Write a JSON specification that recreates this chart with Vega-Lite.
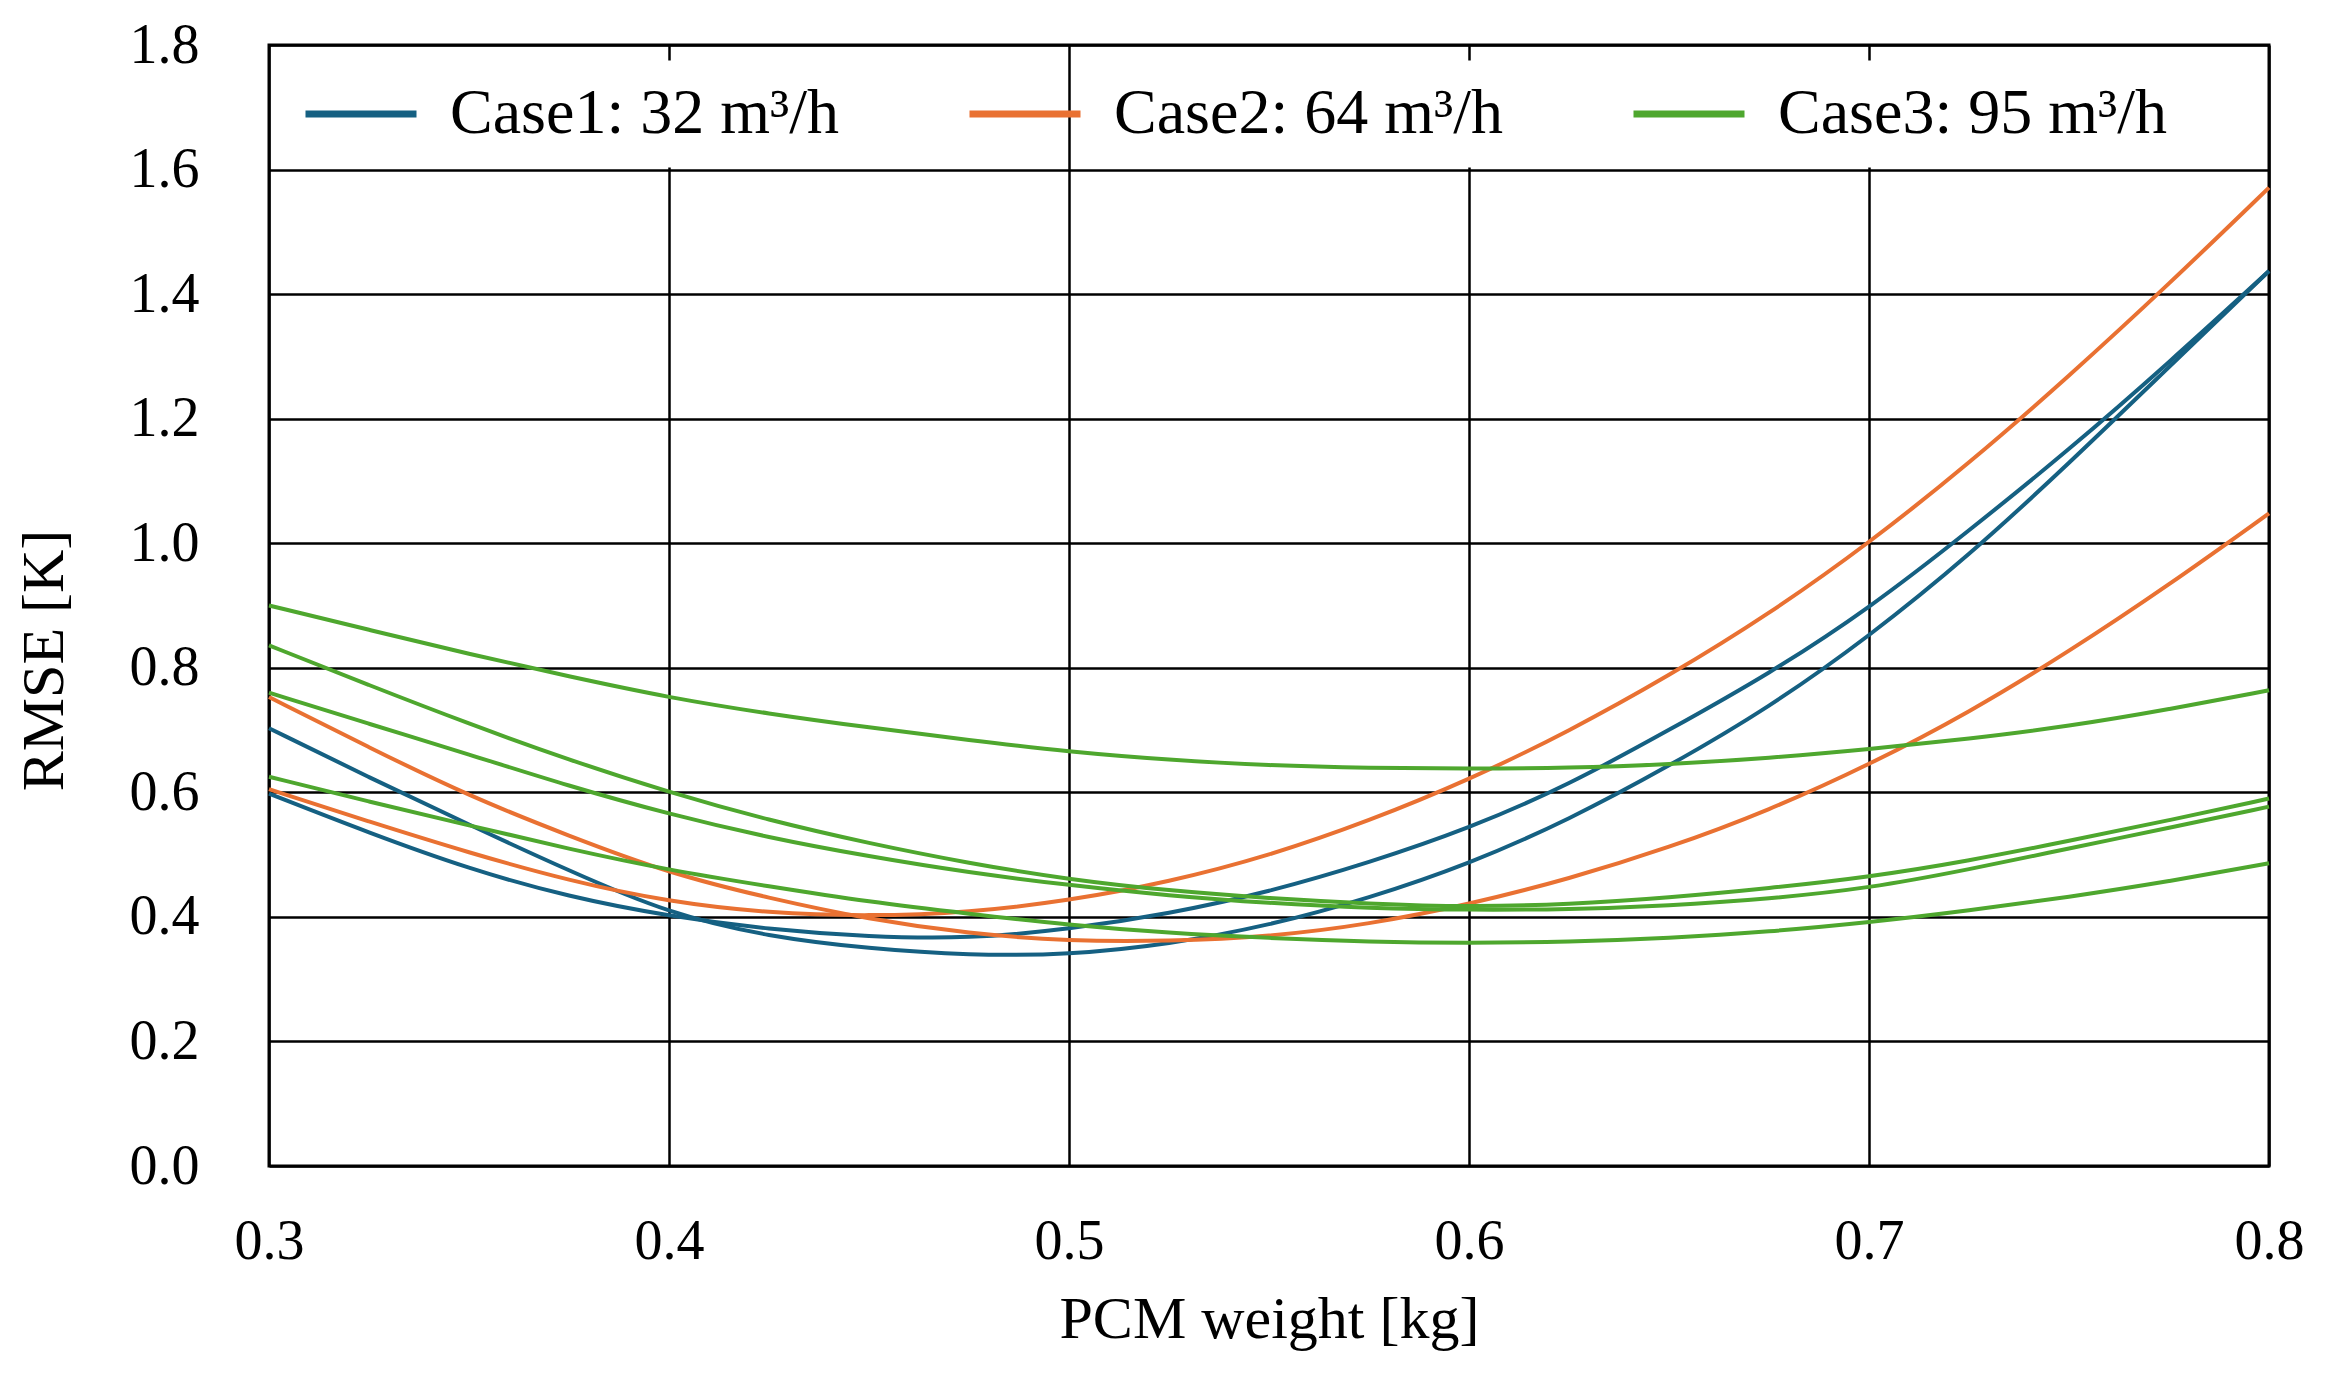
{
  "$schema": "https://vega.github.io/schema/vega-lite/v6.json",
  "width": 2000,
  "height": 1121,
  "autosize": "none",
  "padding": {"left": 269, "top": 45, "right": 59, "bottom": 213},
  "background": "white",
  "config": {
    "view": {"stroke": "black", "strokeWidth": 3},
    "font": "Liberation Serif",
    "axis": {
      "domain": false,
      "ticks": false,
      "tickSize": 0,
      "grid": true,
      "gridColor": "black",
      "gridWidth": 2.5,
      "gridOpacity": 1,
      "labelFont": "Liberation Serif",
      "labelColor": "black",
      "labelFontSize": 56,
      "titleFont": "Liberation Serif",
      "titleColor": "black",
      "titleFontSize": 60,
      "titleFontWeight": "normal"
    },
    "legend": {
      "labelFont": "Liberation Serif",
      "labelColor": "black",
      "labelFontSize": 64,
      "labelLimit": 1000
    }
  },
  "datasets": {
    "curves": [
      {"case": "Case1: 32 m³/h", "curve": "B1", "w": 0.300, "rmse": 0.703},
      {"case": "Case1: 32 m³/h", "curve": "B1", "w": 0.325, "rmse": 0.624},
      {"case": "Case1: 32 m³/h", "curve": "B1", "w": 0.350, "rmse": 0.548},
      {"case": "Case1: 32 m³/h", "curve": "B1", "w": 0.375, "rmse": 0.474},
      {"case": "Case1: 32 m³/h", "curve": "B1", "w": 0.400, "rmse": 0.405},
      {"case": "Case1: 32 m³/h", "curve": "B1", "w": 0.425, "rmse": 0.368},
      {"case": "Case1: 32 m³/h", "curve": "B1", "w": 0.450, "rmse": 0.349},
      {"case": "Case1: 32 m³/h", "curve": "B1", "w": 0.475, "rmse": 0.338},
      {"case": "Case1: 32 m³/h", "curve": "B1", "w": 0.500, "rmse": 0.339},
      {"case": "Case1: 32 m³/h", "curve": "B1", "w": 0.525, "rmse": 0.356},
      {"case": "Case1: 32 m³/h", "curve": "B1", "w": 0.550, "rmse": 0.386},
      {"case": "Case1: 32 m³/h", "curve": "B1", "w": 0.575, "rmse": 0.430},
      {"case": "Case1: 32 m³/h", "curve": "B1", "w": 0.600, "rmse": 0.485},
      {"case": "Case1: 32 m³/h", "curve": "B1", "w": 0.625, "rmse": 0.556},
      {"case": "Case1: 32 m³/h", "curve": "B1", "w": 0.650, "rmse": 0.642},
      {"case": "Case1: 32 m³/h", "curve": "B1", "w": 0.675, "rmse": 0.736},
      {"case": "Case1: 32 m³/h", "curve": "B1", "w": 0.700, "rmse": 0.850},
      {"case": "Case1: 32 m³/h", "curve": "B1", "w": 0.725, "rmse": 0.980},
      {"case": "Case1: 32 m³/h", "curve": "B1", "w": 0.750, "rmse": 1.128},
      {"case": "Case1: 32 m³/h", "curve": "B1", "w": 0.775, "rmse": 1.283},
      {"case": "Case1: 32 m³/h", "curve": "B1", "w": 0.800, "rmse": 1.437},
      {"case": "Case1: 32 m³/h", "curve": "B2", "w": 0.300, "rmse": 0.598},
      {"case": "Case1: 32 m³/h", "curve": "B2", "w": 0.325, "rmse": 0.535},
      {"case": "Case1: 32 m³/h", "curve": "B2", "w": 0.350, "rmse": 0.477},
      {"case": "Case1: 32 m³/h", "curve": "B2", "w": 0.375, "rmse": 0.432},
      {"case": "Case1: 32 m³/h", "curve": "B2", "w": 0.400, "rmse": 0.401},
      {"case": "Case1: 32 m³/h", "curve": "B2", "w": 0.425, "rmse": 0.380},
      {"case": "Case1: 32 m³/h", "curve": "B2", "w": 0.450, "rmse": 0.368},
      {"case": "Case1: 32 m³/h", "curve": "B2", "w": 0.475, "rmse": 0.365},
      {"case": "Case1: 32 m³/h", "curve": "B2", "w": 0.500, "rmse": 0.380},
      {"case": "Case1: 32 m³/h", "curve": "B2", "w": 0.525, "rmse": 0.405},
      {"case": "Case1: 32 m³/h", "curve": "B2", "w": 0.550, "rmse": 0.440},
      {"case": "Case1: 32 m³/h", "curve": "B2", "w": 0.575, "rmse": 0.487},
      {"case": "Case1: 32 m³/h", "curve": "B2", "w": 0.600, "rmse": 0.542},
      {"case": "Case1: 32 m³/h", "curve": "B2", "w": 0.625, "rmse": 0.612},
      {"case": "Case1: 32 m³/h", "curve": "B2", "w": 0.650, "rmse": 0.700},
      {"case": "Case1: 32 m³/h", "curve": "B2", "w": 0.675, "rmse": 0.790},
      {"case": "Case1: 32 m³/h", "curve": "B2", "w": 0.700, "rmse": 0.895},
      {"case": "Case1: 32 m³/h", "curve": "B2", "w": 0.725, "rmse": 1.020},
      {"case": "Case1: 32 m³/h", "curve": "B2", "w": 0.750, "rmse": 1.150},
      {"case": "Case1: 32 m³/h", "curve": "B2", "w": 0.775, "rmse": 1.290},
      {"case": "Case1: 32 m³/h", "curve": "B2", "w": 0.800, "rmse": 1.437},
      {"case": "Case2: 64 m³/h", "curve": "O1", "w": 0.300, "rmse": 0.753},
      {"case": "Case2: 64 m³/h", "curve": "O1", "w": 0.325, "rmse": 0.672},
      {"case": "Case2: 64 m³/h", "curve": "O1", "w": 0.350, "rmse": 0.594},
      {"case": "Case2: 64 m³/h", "curve": "O1", "w": 0.375, "rmse": 0.530},
      {"case": "Case2: 64 m³/h", "curve": "O1", "w": 0.400, "rmse": 0.470},
      {"case": "Case2: 64 m³/h", "curve": "O1", "w": 0.425, "rmse": 0.430},
      {"case": "Case2: 64 m³/h", "curve": "O1", "w": 0.450, "rmse": 0.396},
      {"case": "Case2: 64 m³/h", "curve": "O1", "w": 0.475, "rmse": 0.373},
      {"case": "Case2: 64 m³/h", "curve": "O1", "w": 0.500, "rmse": 0.361},
      {"case": "Case2: 64 m³/h", "curve": "O1", "w": 0.525, "rmse": 0.361},
      {"case": "Case2: 64 m³/h", "curve": "O1", "w": 0.550, "rmse": 0.368},
      {"case": "Case2: 64 m³/h", "curve": "O1", "w": 0.575, "rmse": 0.388},
      {"case": "Case2: 64 m³/h", "curve": "O1", "w": 0.600, "rmse": 0.420},
      {"case": "Case2: 64 m³/h", "curve": "O1", "w": 0.625, "rmse": 0.461},
      {"case": "Case2: 64 m³/h", "curve": "O1", "w": 0.650, "rmse": 0.511},
      {"case": "Case2: 64 m³/h", "curve": "O1", "w": 0.675, "rmse": 0.571},
      {"case": "Case2: 64 m³/h", "curve": "O1", "w": 0.700, "rmse": 0.644},
      {"case": "Case2: 64 m³/h", "curve": "O1", "w": 0.725, "rmse": 0.728},
      {"case": "Case2: 64 m³/h", "curve": "O1", "w": 0.750, "rmse": 0.826},
      {"case": "Case2: 64 m³/h", "curve": "O1", "w": 0.775, "rmse": 0.933},
      {"case": "Case2: 64 m³/h", "curve": "O1", "w": 0.800, "rmse": 1.048},
      {"case": "Case2: 64 m³/h", "curve": "O2", "w": 0.300, "rmse": 0.605},
      {"case": "Case2: 64 m³/h", "curve": "O2", "w": 0.325, "rmse": 0.553},
      {"case": "Case2: 64 m³/h", "curve": "O2", "w": 0.350, "rmse": 0.503},
      {"case": "Case2: 64 m³/h", "curve": "O2", "w": 0.375, "rmse": 0.458},
      {"case": "Case2: 64 m³/h", "curve": "O2", "w": 0.400, "rmse": 0.424},
      {"case": "Case2: 64 m³/h", "curve": "O2", "w": 0.425, "rmse": 0.406},
      {"case": "Case2: 64 m³/h", "curve": "O2", "w": 0.450, "rmse": 0.401},
      {"case": "Case2: 64 m³/h", "curve": "O2", "w": 0.475, "rmse": 0.407},
      {"case": "Case2: 64 m³/h", "curve": "O2", "w": 0.500, "rmse": 0.426},
      {"case": "Case2: 64 m³/h", "curve": "O2", "w": 0.525, "rmse": 0.456},
      {"case": "Case2: 64 m³/h", "curve": "O2", "w": 0.550, "rmse": 0.498},
      {"case": "Case2: 64 m³/h", "curve": "O2", "w": 0.575, "rmse": 0.554},
      {"case": "Case2: 64 m³/h", "curve": "O2", "w": 0.600, "rmse": 0.620},
      {"case": "Case2: 64 m³/h", "curve": "O2", "w": 0.625, "rmse": 0.698},
      {"case": "Case2: 64 m³/h", "curve": "O2", "w": 0.650, "rmse": 0.787},
      {"case": "Case2: 64 m³/h", "curve": "O2", "w": 0.675, "rmse": 0.886},
      {"case": "Case2: 64 m³/h", "curve": "O2", "w": 0.700, "rmse": 1.000},
      {"case": "Case2: 64 m³/h", "curve": "O2", "w": 0.725, "rmse": 1.128},
      {"case": "Case2: 64 m³/h", "curve": "O2", "w": 0.750, "rmse": 1.268},
      {"case": "Case2: 64 m³/h", "curve": "O2", "w": 0.775, "rmse": 1.416},
      {"case": "Case2: 64 m³/h", "curve": "O2", "w": 0.800, "rmse": 1.571},
      {"case": "Case3: 95 m³/h", "curve": "G1", "w": 0.300, "rmse": 0.900},
      {"case": "Case3: 95 m³/h", "curve": "G1", "w": 0.325, "rmse": 0.861},
      {"case": "Case3: 95 m³/h", "curve": "G1", "w": 0.350, "rmse": 0.822},
      {"case": "Case3: 95 m³/h", "curve": "G1", "w": 0.375, "rmse": 0.786},
      {"case": "Case3: 95 m³/h", "curve": "G1", "w": 0.400, "rmse": 0.752},
      {"case": "Case3: 95 m³/h", "curve": "G1", "w": 0.425, "rmse": 0.726},
      {"case": "Case3: 95 m³/h", "curve": "G1", "w": 0.450, "rmse": 0.704},
      {"case": "Case3: 95 m³/h", "curve": "G1", "w": 0.475, "rmse": 0.684},
      {"case": "Case3: 95 m³/h", "curve": "G1", "w": 0.500, "rmse": 0.665},
      {"case": "Case3: 95 m³/h", "curve": "G1", "w": 0.525, "rmse": 0.652},
      {"case": "Case3: 95 m³/h", "curve": "G1", "w": 0.550, "rmse": 0.643},
      {"case": "Case3: 95 m³/h", "curve": "G1", "w": 0.575, "rmse": 0.639},
      {"case": "Case3: 95 m³/h", "curve": "G1", "w": 0.600, "rmse": 0.638},
      {"case": "Case3: 95 m³/h", "curve": "G1", "w": 0.625, "rmse": 0.639},
      {"case": "Case3: 95 m³/h", "curve": "G1", "w": 0.650, "rmse": 0.645},
      {"case": "Case3: 95 m³/h", "curve": "G1", "w": 0.675, "rmse": 0.655},
      {"case": "Case3: 95 m³/h", "curve": "G1", "w": 0.700, "rmse": 0.669},
      {"case": "Case3: 95 m³/h", "curve": "G1", "w": 0.725, "rmse": 0.686},
      {"case": "Case3: 95 m³/h", "curve": "G1", "w": 0.750, "rmse": 0.706},
      {"case": "Case3: 95 m³/h", "curve": "G1", "w": 0.775, "rmse": 0.733},
      {"case": "Case3: 95 m³/h", "curve": "G1", "w": 0.800, "rmse": 0.764},
      {"case": "Case3: 95 m³/h", "curve": "G2", "w": 0.300, "rmse": 0.836},
      {"case": "Case3: 95 m³/h", "curve": "G2", "w": 0.325, "rmse": 0.772},
      {"case": "Case3: 95 m³/h", "curve": "G2", "w": 0.350, "rmse": 0.710},
      {"case": "Case3: 95 m³/h", "curve": "G2", "w": 0.375, "rmse": 0.652},
      {"case": "Case3: 95 m³/h", "curve": "G2", "w": 0.400, "rmse": 0.600},
      {"case": "Case3: 95 m³/h", "curve": "G2", "w": 0.425, "rmse": 0.555},
      {"case": "Case3: 95 m³/h", "curve": "G2", "w": 0.450, "rmse": 0.518},
      {"case": "Case3: 95 m³/h", "curve": "G2", "w": 0.475, "rmse": 0.486},
      {"case": "Case3: 95 m³/h", "curve": "G2", "w": 0.500, "rmse": 0.460},
      {"case": "Case3: 95 m³/h", "curve": "G2", "w": 0.525, "rmse": 0.442},
      {"case": "Case3: 95 m³/h", "curve": "G2", "w": 0.550, "rmse": 0.430},
      {"case": "Case3: 95 m³/h", "curve": "G2", "w": 0.575, "rmse": 0.421},
      {"case": "Case3: 95 m³/h", "curve": "G2", "w": 0.600, "rmse": 0.416},
      {"case": "Case3: 95 m³/h", "curve": "G2", "w": 0.625, "rmse": 0.420},
      {"case": "Case3: 95 m³/h", "curve": "G2", "w": 0.650, "rmse": 0.431},
      {"case": "Case3: 95 m³/h", "curve": "G2", "w": 0.675, "rmse": 0.446},
      {"case": "Case3: 95 m³/h", "curve": "G2", "w": 0.700, "rmse": 0.464},
      {"case": "Case3: 95 m³/h", "curve": "G2", "w": 0.725, "rmse": 0.490},
      {"case": "Case3: 95 m³/h", "curve": "G2", "w": 0.750, "rmse": 0.522},
      {"case": "Case3: 95 m³/h", "curve": "G2", "w": 0.775, "rmse": 0.555},
      {"case": "Case3: 95 m³/h", "curve": "G2", "w": 0.800, "rmse": 0.590},
      {"case": "Case3: 95 m³/h", "curve": "G3", "w": 0.300, "rmse": 0.760},
      {"case": "Case3: 95 m³/h", "curve": "G3", "w": 0.325, "rmse": 0.710},
      {"case": "Case3: 95 m³/h", "curve": "G3", "w": 0.350, "rmse": 0.661},
      {"case": "Case3: 95 m³/h", "curve": "G3", "w": 0.375, "rmse": 0.610},
      {"case": "Case3: 95 m³/h", "curve": "G3", "w": 0.400, "rmse": 0.565},
      {"case": "Case3: 95 m³/h", "curve": "G3", "w": 0.425, "rmse": 0.527},
      {"case": "Case3: 95 m³/h", "curve": "G3", "w": 0.450, "rmse": 0.497},
      {"case": "Case3: 95 m³/h", "curve": "G3", "w": 0.475, "rmse": 0.471},
      {"case": "Case3: 95 m³/h", "curve": "G3", "w": 0.500, "rmse": 0.451},
      {"case": "Case3: 95 m³/h", "curve": "G3", "w": 0.525, "rmse": 0.434},
      {"case": "Case3: 95 m³/h", "curve": "G3", "w": 0.550, "rmse": 0.422},
      {"case": "Case3: 95 m³/h", "curve": "G3", "w": 0.575, "rmse": 0.414},
      {"case": "Case3: 95 m³/h", "curve": "G3", "w": 0.600, "rmse": 0.411},
      {"case": "Case3: 95 m³/h", "curve": "G3", "w": 0.625, "rmse": 0.412},
      {"case": "Case3: 95 m³/h", "curve": "G3", "w": 0.650, "rmse": 0.418},
      {"case": "Case3: 95 m³/h", "curve": "G3", "w": 0.675, "rmse": 0.429},
      {"case": "Case3: 95 m³/h", "curve": "G3", "w": 0.700, "rmse": 0.446},
      {"case": "Case3: 95 m³/h", "curve": "G3", "w": 0.725, "rmse": 0.476},
      {"case": "Case3: 95 m³/h", "curve": "G3", "w": 0.750, "rmse": 0.510},
      {"case": "Case3: 95 m³/h", "curve": "G3", "w": 0.775, "rmse": 0.543},
      {"case": "Case3: 95 m³/h", "curve": "G3", "w": 0.800, "rmse": 0.577},
      {"case": "Case3: 95 m³/h", "curve": "G4", "w": 0.300, "rmse": 0.625},
      {"case": "Case3: 95 m³/h", "curve": "G4", "w": 0.325, "rmse": 0.585},
      {"case": "Case3: 95 m³/h", "curve": "G4", "w": 0.350, "rmse": 0.547},
      {"case": "Case3: 95 m³/h", "curve": "G4", "w": 0.375, "rmse": 0.509},
      {"case": "Case3: 95 m³/h", "curve": "G4", "w": 0.400, "rmse": 0.475},
      {"case": "Case3: 95 m³/h", "curve": "G4", "w": 0.425, "rmse": 0.449},
      {"case": "Case3: 95 m³/h", "curve": "G4", "w": 0.450, "rmse": 0.424},
      {"case": "Case3: 95 m³/h", "curve": "G4", "w": 0.475, "rmse": 0.405},
      {"case": "Case3: 95 m³/h", "curve": "G4", "w": 0.500, "rmse": 0.387},
      {"case": "Case3: 95 m³/h", "curve": "G4", "w": 0.525, "rmse": 0.374},
      {"case": "Case3: 95 m³/h", "curve": "G4", "w": 0.550, "rmse": 0.366},
      {"case": "Case3: 95 m³/h", "curve": "G4", "w": 0.575, "rmse": 0.360},
      {"case": "Case3: 95 m³/h", "curve": "G4", "w": 0.600, "rmse": 0.358},
      {"case": "Case3: 95 m³/h", "curve": "G4", "w": 0.625, "rmse": 0.360},
      {"case": "Case3: 95 m³/h", "curve": "G4", "w": 0.650, "rmse": 0.366},
      {"case": "Case3: 95 m³/h", "curve": "G4", "w": 0.675, "rmse": 0.376},
      {"case": "Case3: 95 m³/h", "curve": "G4", "w": 0.700, "rmse": 0.391},
      {"case": "Case3: 95 m³/h", "curve": "G4", "w": 0.725, "rmse": 0.410},
      {"case": "Case3: 95 m³/h", "curve": "G4", "w": 0.750, "rmse": 0.432},
      {"case": "Case3: 95 m³/h", "curve": "G4", "w": 0.775, "rmse": 0.457},
      {"case": "Case3: 95 m³/h", "curve": "G4", "w": 0.800, "rmse": 0.486}
    ],
    "legendBox": [
      {"x0": 0.3012, "x1": 0.4985, "y0": 1.6035, "y1": 1.775},
      {"x0": 0.5015, "x1": 0.7988, "y0": 1.6035, "y1": 1.775}
    ]
  },
  "layer": [
    {
      "data": {"name": "legendBox"},
      "mark": {"type": "rect", "fill": "white", "stroke": null},
      "encoding": {
        "x": {"field": "x0", "type": "quantitative", "scale": {"domain": [0.3, 0.8], "nice": false}},
        "x2": {"field": "x1"},
        "y": {"field": "y0", "type": "quantitative", "scale": {"domain": [0, 1.8], "nice": false}},
        "y2": {"field": "y1"}
      }
    },
    {
      "data": {"name": "curves"},
      "mark": {"type": "line", "interpolate": "basis", "strokeWidth": 4},
      "encoding": {
        "x": {
          "field": "w",
          "type": "quantitative",
          "scale": {"domain": [0.3, 0.8], "nice": false, "zero": false},
          "axis": {
            "values": [0.3, 0.4, 0.5, 0.6, 0.7, 0.8],
            "format": ".1f",
            "labelBaseline": "alphabetic",
            "labelPadding": 92,
            "labelFlush": false,
            "title": "PCM weight [kg]",
            "titleBaseline": "alphabetic",
            "titleY": 171
          }
        },
        "y": {
          "field": "rmse",
          "type": "quantitative",
          "scale": {"domain": [0, 1.8], "nice": false, "zero": true},
          "axis": {
            "values": [0, 0.2, 0.4, 0.6, 0.8, 1.0, 1.2, 1.4, 1.6, 1.8],
            "format": ".1f",
            "labelPadding": 70,
            "labelFlush": false,
            "title": "RMSE [K]",
            "titleAngle": -90,
            "titleBaseline": "middle",
            "titleAlign": "center",
            "titleX": -225,
            "titleY": 615
          }
        },
        "color": {
          "field": "case",
          "type": "nominal",
          "scale": {
            "domain": ["Case1: 32 m³/h", "Case2: 64 m³/h", "Case3: 95 m³/h"],
            "range": ["#156082", "#E97132", "#4EA72E"]
          },
          "legend": {
            "title": null,
            "orient": "none",
            "direction": "horizontal",
            "legendX": 33,
            "legendY": 10,
            "symbolType": "stroke",
            "symbolSize": 12321,
            "symbolStrokeWidth": 7,
            "labelOffset": 30,
            "columnPadding": 116,
            "padding": 0
          }
        },
        "detail": {"field": "curve", "type": "nominal"}
      }
    }
  ]
}
